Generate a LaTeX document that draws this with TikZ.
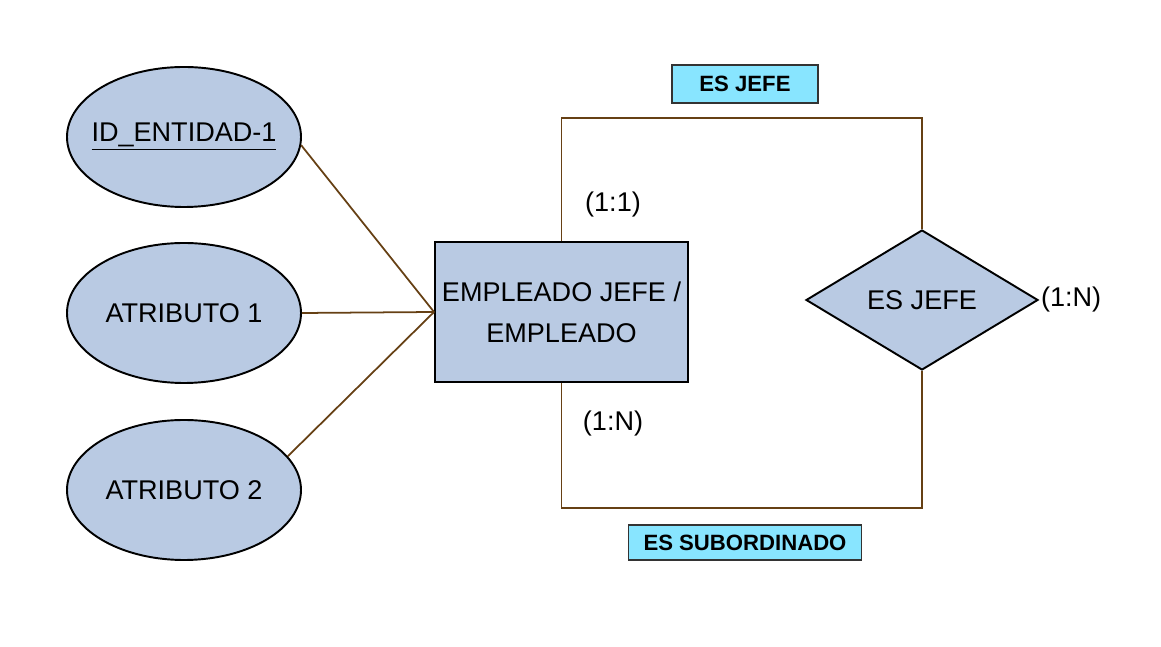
\documentclass[tikz,border=0pt]{standalone}
\usepackage{fontspec}
\setmainfont{Liberation Sans}
\usetikzlibrary{shapes.geometric}
\definecolor{entfill}{RGB}{185,202,227}
\definecolor{linkbrown}{RGB}{102,64,20}
\definecolor{tagcyan}{RGB}{136,229,255}
\definecolor{tagborder}{RGB}{51,51,51}
\begin{document}
\begin{tikzpicture}[
    attr/.style={draw, ellipse, fill=entfill, line width=1.1pt, minimum width=4.68cm, minimum height=2.8cm, inner sep=0pt, font=\fontsize{15.4}{18}\selectfont},
    entity/.style={draw, rectangle, fill=entfill, line width=1.1pt, minimum width=5.06cm, minimum height=2.8cm, inner sep=1pt, align=center, font=\fontsize{15.4}{23.3}\selectfont},
    relation/.style={draw, diamond, fill=entfill, line width=1.1pt, minimum width=4.64cm, minimum height=2.8cm, inner sep=0pt, font=\fontsize{15.4}{18}\selectfont},
    roletag/.style={draw=tagborder, rectangle, fill=tagcyan, line width=1.1pt, inner sep=0pt, font=\bfseries\fontsize{12.6}{15}\selectfont},
    card/.style={font=\fontsize{15.4}{18}\selectfont, inner sep=1pt},
    link/.style={draw=linkbrown, line width=1pt}
]
    \useasboundingbox (0,0) rectangle (23.22,12.94);

    % Attributes
    \node[attr] (id1) at (3.68, 10.2) {\makebox[0pt][c]{\underline{ID\_ENTIDAD-1}}};
    \node[attr] (attr1) at (3.68, 6.68) {\makebox[0pt][c]{ATRIBUTO 1}};
    \node[attr] (attr2) at (3.68, 3.14) {\makebox[0pt][c]{ATRIBUTO 2}};

    % Entity and relation
    \node[entity] (emp) at (11.23, 6.7) {EMPLEADO JEFE /\\EMPLEADO};
    \node[relation] (rel) at (18.44, 6.94) {ES JEFE};

    % Role labels
    \node[roletag, minimum width=2.92cm, minimum height=0.76cm] (tagjefe) at (14.9, 11.26) {ES JEFE};
    \node[roletag, minimum width=4.66cm, minimum height=0.7cm] (tagsub) at (14.9, 2.09) {ES SUBORDINADO};

    % Cardinalities
    \node[card] (card11) at (12.26, 8.84) {(1:1)};
    \node[card] (card1n) at (12.26, 4.46) {(1:N)};
    \node[card, anchor=west] (cardrel) at (rel.east) {(1:N)};

    % Corners of the recursive link
    \coordinate (upper) at (14.9, 10.58);
    \coordinate (lower) at (14.9, 2.78);

    % Attribute lines
    \draw[link] (id1.-4) -- (emp.west);
    \draw[link] (attr1.east) -- (emp.west);
    \draw[link] (attr2.18) -- (emp.west);

    % Recursive link
    \draw[link] (emp.north) -- (emp.north |- upper) -- (rel.north |- upper) -- (rel.north);
    \draw[link] (emp.south) -- (emp.south |- lower) -- (rel.south |- lower) -- (rel.south);
\end{tikzpicture}
\end{document}
